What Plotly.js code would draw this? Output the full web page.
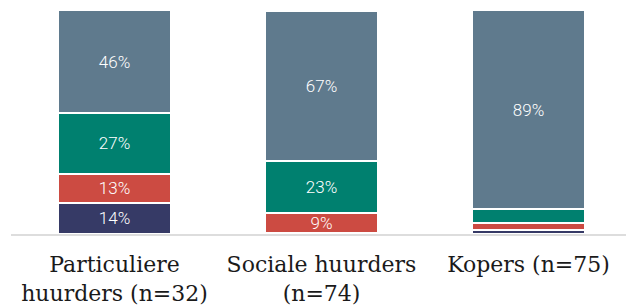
<!DOCTYPE html>
<html>
<head>
<meta charset="utf-8">
<script src="https://cdn.plot.ly/plotly-3.0.1.min.js"></script>
<style>html,body{margin:0;padding:0;background:#fff;}#chart{width:626px;height:308px;}</style>
</head>
<body>
<div id="chart"></div>
<script>
const categories = ["Particuliere<br>huurders (n=32)", "Sociale huurders<br>(n=74)", "Kopers (n=75)"];
const seriesNames = ["Reeks 1", "Reeks 2", "Reeks 3", "Reeks 4"];
const navyValues = [14, 0.5, 2];
const redValues = [13, 9, 3];
const tealValues = [27, 23, 6];
const slateValues = [46, 67, 89];
const colors = ["#363a66", "#cc4b42", "#00806f", "#5f7a8d"];
const minLabel = 8;

const allValues = [navyValues, redValues, tealValues, slateValues];
const traces = allValues.map((vals, i) => ({
  type: "bar",
  name: seriesNames[i],
  x: categories,
  y: vals,
  marker: {color: colors[i], line: {color: "#ffffff", width: 2}},
  text: vals.map(v => v >= minLabel ? Math.round(v) + "%" : ""),
  textposition: "inside",
  insidetextanchor: "middle",
  constraintext: "none",
  textfont: {color: "#ffffff", family: "Roboto, sans-serif", size: 17, weight: 300},
  hoverinfo: "none"
}));

const layout = {
  width: 626, height: 308,
  margin: {l: 11, r: 0, t: 10, b: 74},
  barmode: "stack",
  bargap: 0.454,
  showlegend: false,
  paper_bgcolor: "#ffffff",
  plot_bgcolor: "#ffffff",
  xaxis: {
    range: [-0.5, 2.471],
    showline: true, linecolor: "#dddddd", linewidth: 2,
    ticks: "", showgrid: false, zeroline: false,
    ticklabelstandoff: 10,
    tickfont: {family: "DejaVu Serif, serif", size: 22, color: "#1a1a1a"}
  },
  yaxis: {range: [0, 100], visible: false, showgrid: false, zeroline: false}
};

Plotly.newPlot("chart", traces, layout, {displayModeBar: false, staticPlot: true});
</script>
</body>
</html>
